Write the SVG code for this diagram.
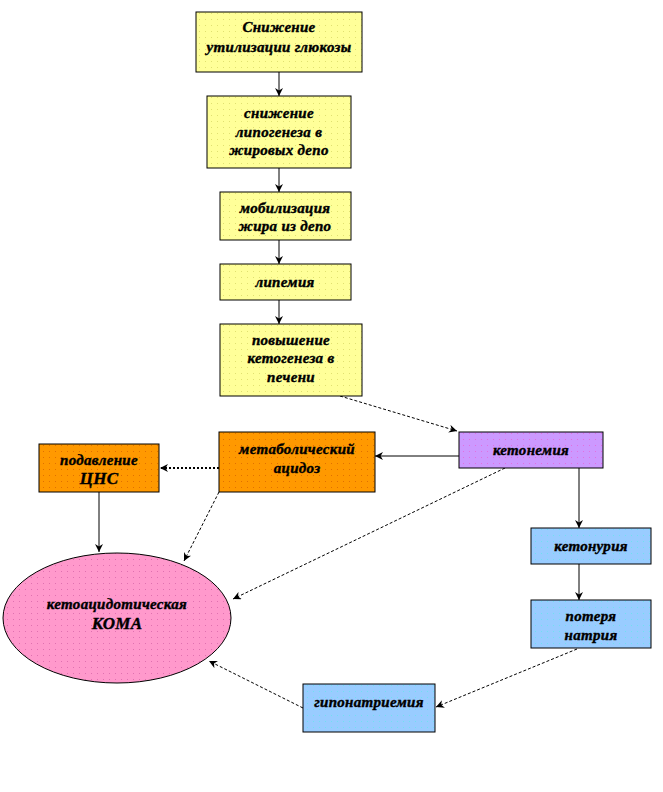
<svg xmlns="http://www.w3.org/2000/svg" width="663" height="792" viewBox="0 0 663 792">
<style>
.n{stroke:#000;stroke-width:1}
.t{font-family:"Liberation Serif","DejaVu Serif",serif;font-weight:bold;font-style:italic;font-size:15px;letter-spacing:0.3px;fill:#000;text-anchor:middle;stroke:#000;stroke-width:0.4}
.c{fill:none;stroke:#000;stroke-width:1}
.d{stroke-dasharray:3 2}
.dt{stroke-dasharray:2 2;stroke-width:2}
</style>
<defs>
<pattern id="py" width="6" height="6" patternUnits="userSpaceOnUse"><rect width="6" height="6" fill="#FFFF99"/><rect x="1" y="1" width="1" height="1" fill="#E0E070"/></pattern>
<pattern id="po" width="6" height="6" patternUnits="userSpaceOnUse"><rect width="6" height="6" fill="#FF9900"/><rect x="1" y="1" width="1" height="1" fill="#E07000"/></pattern>
<pattern id="pp" width="6" height="6" patternUnits="userSpaceOnUse"><rect width="6" height="6" fill="#CC99FF"/><rect x="1" y="1" width="1" height="1" fill="#E070E0"/></pattern>
<pattern id="pb" width="6" height="6" patternUnits="userSpaceOnUse"><rect width="6" height="6" fill="#99CCFF"/><rect x="1" y="1" width="1" height="1" fill="#70E0F0"/></pattern>
<pattern id="pk" width="6" height="6" patternUnits="userSpaceOnUse"><rect width="6" height="6" fill="#FF99CC"/><rect x="1" y="1" width="1" height="1" fill="#E070B0"/></pattern>
<marker id="a" viewBox="0 0 10 10" refX="10" refY="5" markerWidth="8" markerHeight="8" markerUnits="userSpaceOnUse" orient="auto"><path d="M0,0 L10,5 L0,10 L3,5 z" fill="#000"/></marker>
</defs>
<g id="connectors">
<line class="c" x1="279" y1="72" x2="279" y2="96" marker-end="url(#a)"/>
<line class="c" x1="279" y1="168" x2="279" y2="192" marker-end="url(#a)"/>
<line class="c" x1="279" y1="240" x2="279" y2="264" marker-end="url(#a)"/>
<line class="c" x1="279" y1="300" x2="279" y2="324" marker-end="url(#a)"/>
<line class="c d" x1="340" y1="396" x2="457" y2="431" marker-end="url(#a)"/>
<line class="c" x1="459" y1="456" x2="375" y2="456" marker-end="url(#a)"/>
<line class="c dt" x1="219" y1="468" x2="160" y2="468" marker-end="url(#a)"/>
<line class="c" x1="99" y1="492" x2="99" y2="552" marker-end="url(#a)"/>
<line class="c d" x1="219" y1="492" x2="184" y2="561" marker-end="url(#a)"/>
<line class="c d" x1="505" y1="468" x2="233" y2="599" marker-end="url(#a)"/>
<line class="c" x1="579" y1="468" x2="579" y2="528" marker-end="url(#a)"/>
<line class="c" x1="579" y1="564" x2="579" y2="600" marker-end="url(#a)"/>
<line class="c d" x1="577" y1="649" x2="436" y2="707" marker-end="url(#a)"/>
<line class="c d" x1="303" y1="708" x2="209" y2="661" marker-end="url(#a)"/>
</g>
<g id="n1"><rect class="n" x="196" y="12" width="166" height="60" fill="url(#py)"/><text class="t" x="279" y="32">Снижение</text><text class="t" x="279" y="52">утилизации глюкозы</text></g>
<g id="n2"><rect class="n" x="207" y="96" width="144" height="72" fill="url(#py)"/><text class="t" x="279" y="118">снижение</text><text class="t" x="279" y="137">липогенеза в</text><text class="t" x="279" y="155">жировых депо</text></g>
<g id="n3"><rect class="n" x="220" y="192" width="131" height="48" fill="url(#py)"/><text class="t" x="285" y="213">мобилизация</text><text class="t" x="285" y="231">жира из депо</text></g>
<g id="n4"><rect class="n" x="220" y="264" width="131" height="36" fill="url(#py)"/><text class="t" x="285" y="287">липемия</text></g>
<g id="n5"><rect class="n" x="220" y="324" width="142" height="72" fill="url(#py)"/><text class="t" x="291" y="345">повышение</text><text class="t" x="291" y="363">кетогенеза в</text><text class="t" x="291" y="382">печени</text></g>
<g id="n6"><rect class="n" x="459" y="432" width="144" height="36" fill="url(#pp)"/><text class="t" x="531" y="455">кетонемия</text></g>
<g id="n7"><rect class="n" x="219" y="432" width="156" height="60" fill="url(#po)"/><text class="t" x="297" y="454">метаболический</text><text class="t" x="297" y="473">ацидоз</text></g>
<g id="n8"><rect class="n" x="39" y="444" width="120" height="48" fill="url(#po)"/><text class="t" x="99" y="465">подавление</text><text class="t" x="99" y="484" style="font-size:17px">ЦНС</text></g>
<g id="n9"><rect class="n" x="531" y="528" width="120" height="36" fill="url(#pb)"/><text class="t" x="591" y="551">кетонурия</text></g>
<g id="n10"><rect class="n" x="531" y="600" width="120" height="48" fill="url(#pb)"/><text class="t" x="591" y="621">потеря</text><text class="t" x="591" y="640">натрия</text></g>
<g id="n11"><rect class="n" x="303" y="684" width="132" height="48" fill="url(#pb)"/><text class="t" x="369" y="707">гипонатриемия</text></g>
<g id="n12"><ellipse class="n" cx="117" cy="618" rx="114" ry="65" fill="url(#pk)"/><text class="t" x="117" y="609">кетоацидотическая</text><text class="t" x="117" y="629" style="font-size:17px">КОМА</text></g>
</svg>
